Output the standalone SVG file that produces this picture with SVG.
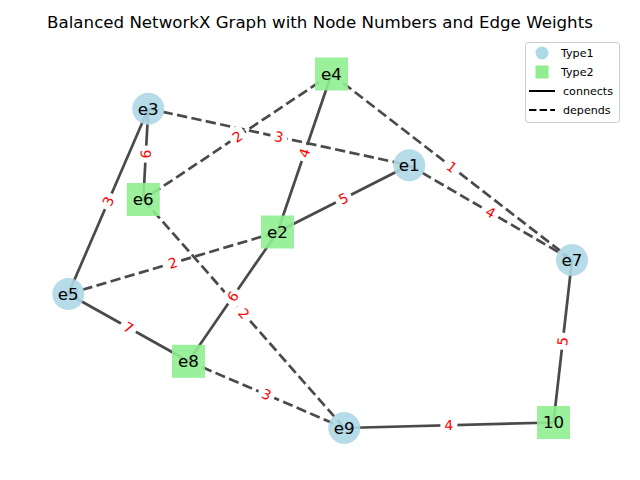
<svg xmlns="http://www.w3.org/2000/svg" width="640" height="480" viewBox="0 0 640 480">
<style>
  .edge { stroke: #4a4a4a; stroke-width: 2.7; fill: none; }
  .dash { stroke-dasharray: 10.3 4.4; }
  .lblbox { fill: #ffffff; }
  .lbl { font-family: "DejaVu Sans", sans-serif; font-size: 13.9px; fill: #ff0000; text-anchor: middle; }
  .t1 { fill: #add8e6; fill-opacity: 0.9; }
  .t2 { fill: #90ee90; fill-opacity: 0.9; }
  .nlbl { font-family: "DejaVu Sans", sans-serif; font-size: 16.67px; fill: #000000; text-anchor: middle; }
  .title { font-family: "DejaVu Sans", sans-serif; font-size: 16.67px; fill: #000000; text-anchor: middle; }
  .leg { font-family: "DejaVu Sans", sans-serif; font-size: 11.1px; fill: #000000; }
</style>
<rect x="0" y="0" width="640" height="480" fill="#ffffff"/>
<text class="title" x="320" y="28">Balanced NetworkX Graph with Node Numbers and Edge Weights</text>

<g id="connectors">
  <line class="edge" x1="148.3" y1="108.7" x2="143.3" y2="199.5"/>
  <line class="edge" x1="148.3" y1="108.7" x2="68.3" y2="294"/>
  <line class="edge" x1="331.5" y1="74" x2="277.5" y2="232"/>
  <line class="edge" x1="409.3" y1="165.3" x2="277.5" y2="232"/>
  <line class="edge" x1="277.5" y1="232" x2="188.5" y2="361.3"/>
  <line class="edge" x1="68.3" y1="294" x2="188.5" y2="361.3"/>
  <line class="edge" x1="344.3" y1="428" x2="553.5" y2="422.5"/>
  <line class="edge" x1="572" y1="260" x2="553.5" y2="422.5"/>
  <line class="edge dash" x1="148.3" y1="108.7" x2="409.3" y2="165.3"/>
  <line class="edge dash" x1="331.5" y1="74" x2="143.3" y2="199.5"/>
  <line class="edge dash" x1="331.5" y1="74" x2="572" y2="260"/>
  <line class="edge dash" x1="409.3" y1="165.3" x2="572" y2="260"/>
  <line class="edge dash" x1="68.3" y1="294" x2="277.5" y2="232"/>
  <line class="edge dash" x1="143.3" y1="199.5" x2="344.3" y2="428"/>
  <line class="edge dash" x1="188.5" y1="361.3" x2="344.3" y2="428"/>
</g>

<g id="edge-labels">
  <g transform="translate(145.8,154.1) rotate(-86.8)"><rect class="lblbox" x="-8.5" y="-9.5" width="17" height="19" rx="4"/><text class="lbl" x="0" y="4.9">6</text></g>
  <g transform="translate(108.3,201.3) rotate(-66.6)"><rect class="lblbox" x="-8.5" y="-9.5" width="17" height="19" rx="4"/><text class="lbl" x="0" y="4.9">3</text></g>
  <g transform="translate(304.5,153) rotate(-71.1)"><rect class="lblbox" x="-8.5" y="-9.5" width="17" height="19" rx="4"/><text class="lbl" x="0" y="4.9">4</text></g>
  <g transform="translate(343.4,198.6) rotate(-26.9)"><rect class="lblbox" x="-8.5" y="-9.5" width="17" height="19" rx="4"/><text class="lbl" x="0" y="4.9">5</text></g>
  <g transform="translate(233,296.6) rotate(-55.4)"><rect class="lblbox" x="-8.5" y="-9.5" width="17" height="19" rx="4"/><text class="lbl" x="0" y="4.9">6</text></g>
  <g transform="translate(128.4,327.6) rotate(29.2)"><rect class="lblbox" x="-8.5" y="-9.5" width="17" height="19" rx="4"/><text class="lbl" x="0" y="4.9">7</text></g>
  <g transform="translate(448.9,425.2) rotate(-1.6)"><rect class="lblbox" x="-8.5" y="-9.5" width="17" height="19" rx="4"/><text class="lbl" x="0" y="4.9">4</text></g>
  <g transform="translate(562.7,341.2) rotate(-83.3)"><rect class="lblbox" x="-8.5" y="-9.5" width="17" height="19" rx="4"/><text class="lbl" x="0" y="4.9">5</text></g>
  <g transform="translate(278.8,137) rotate(12.1)"><rect class="lblbox" x="-8.5" y="-9.5" width="17" height="19" rx="4"/><text class="lbl" x="0" y="4.9">3</text></g>
  <g transform="translate(237.4,136.7) rotate(-33.6)"><rect class="lblbox" x="-8.5" y="-9.5" width="17" height="19" rx="4"/><text class="lbl" x="0" y="4.9">2</text></g>
  <g transform="translate(451.7,167) rotate(37.7)"><rect class="lblbox" x="-8.5" y="-9.5" width="17" height="19" rx="4"/><text class="lbl" x="0" y="4.9">1</text></g>
  <g transform="translate(490.6,212.6) rotate(30.2)"><rect class="lblbox" x="-8.5" y="-9.5" width="17" height="19" rx="4"/><text class="lbl" x="0" y="4.9">4</text></g>
  <g transform="translate(172.9,263) rotate(-16.5)"><rect class="lblbox" x="-8.5" y="-9.5" width="17" height="19" rx="4"/><text class="lbl" x="0" y="4.9">2</text></g>
  <g transform="translate(243.8,313.7) rotate(48.7)"><rect class="lblbox" x="-8.5" y="-9.5" width="17" height="19" rx="4"/><text class="lbl" x="0" y="4.9">2</text></g>
  <g transform="translate(266.4,394.6) rotate(23.2)"><rect class="lblbox" x="-8.5" y="-9.5" width="17" height="19" rx="4"/><text class="lbl" x="0" y="4.9">3</text></g>
</g>

<g id="node-e3"><circle class="t1" cx="148.3" cy="108.7" r="16"/><text class="nlbl" x="148.3" y="114.6">e3</text></g>
<g id="node-e1"><circle class="t1" cx="409.3" cy="165.3" r="16"/><text class="nlbl" x="409.3" y="171.2">e1</text></g>
<g id="node-e5"><circle class="t1" cx="68.3" cy="294" r="16"/><text class="nlbl" x="68.3" y="299.9">e5</text></g>
<g id="node-e7"><circle class="t1" cx="572" cy="260" r="16"/><text class="nlbl" x="572" y="265.9">e7</text></g>
<g id="node-e9"><circle class="t1" cx="344.3" cy="428" r="16"/><text class="nlbl" x="344.3" y="433.9">e9</text></g>
<g id="node-e4"><rect class="t2" x="315" y="57.5" width="33" height="33"/><text class="nlbl" x="331.5" y="79.9">e4</text></g>
<g id="node-e6"><rect class="t2" x="126.8" y="183" width="33" height="33"/><text class="nlbl" x="143.3" y="205.4">e6</text></g>
<g id="node-e2"><rect class="t2" x="261" y="215.5" width="33" height="33"/><text class="nlbl" x="277.5" y="237.9">e2</text></g>
<g id="node-e8"><rect class="t2" x="172" y="344.8" width="33" height="33"/><text class="nlbl" x="188.5" y="367.2">e8</text></g>
<g id="node-10"><rect class="t2" x="537" y="406" width="33" height="33"/><text class="nlbl" x="553.5" y="428.4">10</text></g>

<g id="legend">
  <rect x="525.5" y="42.5" width="94" height="80" rx="3" fill="#ffffff" fill-opacity="0.8" stroke="#cccccc" stroke-width="1"/>
  <circle cx="542" cy="53" r="6.5" fill="#add8e6"/>
  <text class="leg" x="561" y="57">Type1</text>
  <rect x="535.5" y="65.5" width="13" height="13" fill="#90ee90"/>
  <text class="leg" x="561" y="76">Type2</text>
  <line x1="529" y1="91" x2="555" y2="91" stroke="#000000" stroke-width="2"/>
  <text class="leg" x="563" y="95">connects</text>
  <line x1="529" y1="110" x2="555" y2="110" stroke="#000000" stroke-width="2" stroke-dasharray="7.4 3.2"/>
  <text class="leg" x="563" y="114">depends</text>
</g>
</svg>
